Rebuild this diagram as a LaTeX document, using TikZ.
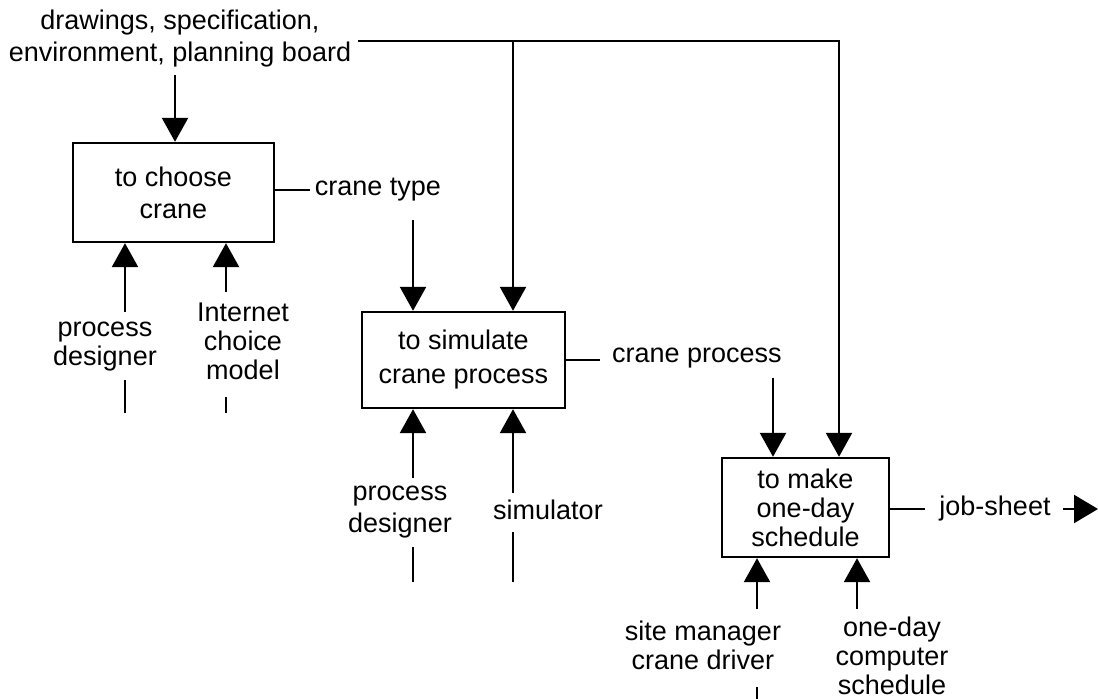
\documentclass[tikz,border=0pt]{standalone}
\usepackage{fontspec}
\setmainfont{Liberation Sans}
\usetikzlibrary{arrows.meta}
\begin{document}
\begin{tikzpicture}[x=0.5pt,y=-0.5pt,
  every node/.style={font=\fontsize{13.5}{14.5}\selectfont, inner sep=0pt, align=center},
  activity/.style={draw, line width=1.2pt},
  wire/.style={line width=1.2pt},
  arr/.style={wire, -{Triangle[length=12pt,width=13pt]}}]
\useasboundingbox (0,0) rectangle (1098,699);

% activity boxes
\node[activity, minimum width=100.5pt, minimum height=49.5pt,
      font=\fontsize{13.5}{16}\selectfont] (choose) at (173.5,192.5) {to choose\\crane};
\node[activity, minimum width=101.5pt, minimum height=48pt,
      font=\fontsize{13.5}{17}\selectfont] (sim) at (463.5,360) {to simulate\\crane process};
\node[activity, minimum width=83.5pt, minimum height=49.5pt] (sched) at (805.5,507.5)
      {to make\\one-day\\schedule};

% labels
\node[font=\fontsize{13.5}{16}\selectfont] (docs) at (180,39) {drawings, specification,\\environment, planning board};
\node (ctype) at (378,190) {crane type};
\node (cproc) at (697,358) {crane process};
\node (job) at (995,509) {job-sheet};
\node (pd1) at (105,347) {process\\designer};
\node (icm) at (243,341) {Internet\\choice\\model};
\node[font=\fontsize{13.5}{16}\selectfont] (pd2) at (400,512) {process\\designer};
\node (simu) at (548,510) {simulator};
\node (site) at (703,645) {site manager\\crane driver};
\node (comp) at (892,656) {one-day\\computer\\schedule};

% control inputs from the top
\coordinate (docsin) at (175,75);
\draw[arr] (docsin) -- (docsin |- choose.north);
\coordinate (busL) at (358,41);
\coordinate (busM) at (513,41);
\coordinate (busR) at (839,41);
\draw[wire] (busL) -- (busM);
\draw[arr] (busM) -- (busM |- sim.north);
\draw[arr] (busM) -- (busR) -- (busR |- sched.north);

% outputs
\coordinate (ctypeA) at (310,190);
\draw[wire] (choose.east |- ctypeA) -- (ctypeA);
\coordinate (ctypeB) at (413,220);
\draw[arr] (ctypeB) -- (ctypeB |- sim.north);

\coordinate (cprocA) at (600,360);
\draw[wire] (sim.east |- cprocA) -- (cprocA);
\coordinate (cprocB) at (773,378);
\draw[arr] (cprocB) -- (cprocB |- sched.north);

\coordinate (jobA) at (925,509);
\draw[wire] (sched.east |- jobA) -- (jobA);
\coordinate (jobB) at (1063,509);
\coordinate (jobC) at (1098,509);
\draw[wire, -{Triangle[length=12pt,width=14pt]}] (jobB) -- (jobC);

% mechanisms from below
\coordinate (m1) at (125,312);
\draw[arr] (m1) -- (m1 |- choose.south);
\draw[wire] (125,380) coordinate (m1a) -- (125,413) coordinate (m1b);
\coordinate (m2) at (226,292);
\draw[arr] (m2) -- (m2 |- choose.south);
\draw[wire] (226,397) coordinate (m2a) -- (226,413) coordinate (m2b);

\coordinate (m3) at (413,478);
\draw[arr] (m3) -- (m3 |- sim.south);
\draw[wire] (413,547) coordinate (m3a) -- (413,582) coordinate (m3b);
\coordinate (m4) at (513,493);
\draw[arr] (m4) -- (m4 |- sim.south);
\draw[wire] (513,532) coordinate (m4a) -- (513,582) coordinate (m4b);

\coordinate (m5) at (757,609);
\draw[arr] (m5) -- (m5 |- sched.south);
\draw[wire] (757,687) coordinate (m5a) -- (757,699) coordinate (m5b);
\coordinate (m6) at (857,609);
\draw[arr] (m6) -- (m6 |- sched.south);
\end{tikzpicture}
\end{document}
